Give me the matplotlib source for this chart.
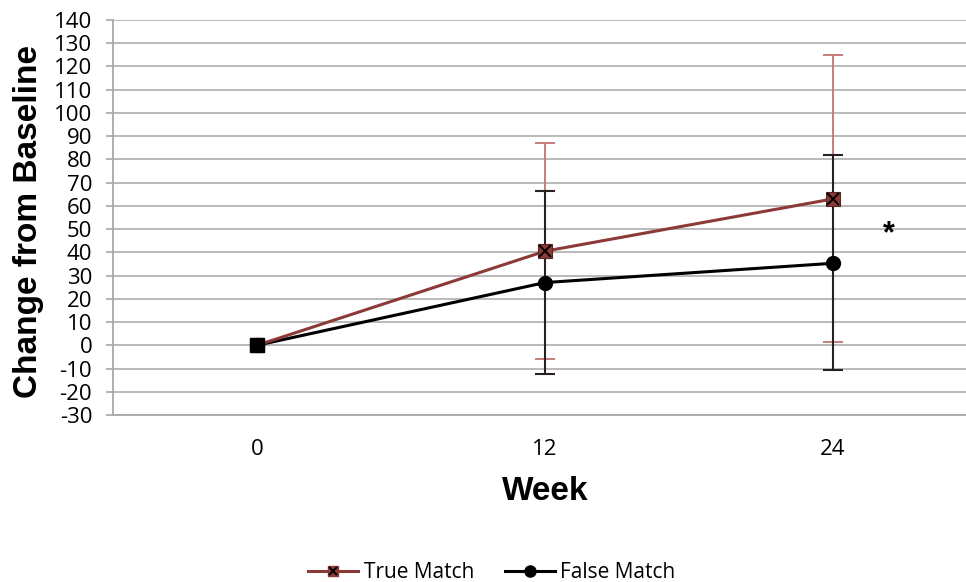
import numpy as np
import matplotlib.pyplot as plt
from matplotlib.lines import Line2D

plt.rcParams["axes.unicode_minus"] = False

# Change from baseline by study week
weeks = ["0", "12", "24"]
true_mean = [0, 40.5, 63]
true_upper = [0, 87, 125]
true_lower = [0, -6, 1.5]
false_mean = [0, 27, 35.3]
false_upper = [0, 66.5, 82]
false_lower = [0, -12.5, -10.7]
star_pos = (2.195, 48)

red = "#8b3a37"
red_err = "#c07472"
grid_grey = "#b4b4b4"

x = np.arange(len(weeks))

fig = plt.figure(figsize=(9.66, 5.82), dpi=100)
ax = fig.add_axes([113 / 966, 1 - 415 / 582, 1 - 113 / 966, (415 - 20) / 582])

tm = np.array(true_mean)
fm = np.array(false_mean)
true_err = [tm - np.array(true_lower), np.array(true_upper) - tm]
false_err = [fm - np.array(false_lower), np.array(false_upper) - fm]

ax.errorbar(x[1:], tm[1:], yerr=[e[1:] for e in true_err], fmt="none",
            ecolor=red_err, elinewidth=1.3, capsize=7, capthick=1.3, zorder=2)
ax.errorbar(x[1:], fm[1:], yerr=[e[1:] for e in false_err], fmt="none",
            ecolor="#2a2020", elinewidth=1.5, capsize=7, capthick=1.5, zorder=3)

ax.plot(x, fm, color="black", lw=2.2, marker="o", ms=10, mfc="black",
        mec="black", zorder=4)
ax.plot(x, tm, color=red, lw=2.2, marker="s", ms=10, mfc=red, mec="#5a2522",
        mew=0.8, zorder=5)
ax.plot(x[1:], tm[1:], ls="none", marker="x", ms=8, mec="black", mew=1.4,
        zorder=6)
# week 0 point is shown as a black square
ax.plot(x[:1], fm[:1], ls="none", marker="s", ms=10, mfc="black", mec="black",
        zorder=7)

ax.text(*star_pos, "*", ha="center", va="center", fontsize=22,
        fontweight="bold", family="Liberation Sans", color="black")

ax.set_ylim(-30, 140)
ax.set_xlim(-0.5, 2.5 - 11 / 287.5)
ax.set_yticks(np.arange(-30, 141, 10))
ax.set_xticks(x)
ax.set_xticklabels(weeks)
ax.yaxis.grid(True, color=grid_grey, lw=1.3)
ax.set_axisbelow(True)

for side in ("top", "right"):
    ax.spines[side].set_visible(False)
for side in ("left", "bottom"):
    ax.spines[side].set_color("#a8a8a8")
    ax.spines[side].set_linewidth(1.3)

ax.tick_params(axis="y", length=5, width=1.2, color="#a8a8a8", pad=10,
               labelsize=16)
ax.tick_params(axis="x", length=0, pad=17, labelsize=16)
for lab in ax.get_xticklabels() + ax.get_yticklabels():
    lab.set_family("Open Sans")

ax.set_ylabel("Change from Baseline", fontsize=24, fontweight="bold",
              family="Liberation Sans", va="center")
ax.yaxis.set_label_coords((29 - 113) / (966 - 113), 0.49)
ax.set_xlabel("Week", fontsize=24, fontweight="bold", family="Liberation Sans")
ax.xaxis.set_label_coords((545 - 113) / (966 - 113), -(492 - 415) / 395)
ax.xaxis.label.set_va("center")

h_true = (Line2D([], [], color=red, lw=2.2, marker="s", ms=7, mfc=red, mec=red),
          Line2D([], [], ls="none", marker="x", ms=6, mec="black", mew=1.4))
h_false = Line2D([], [], color="black", lw=2.2, marker="o", ms=8, mfc="black")
fig.legend([h_true, h_false], ["True Match", "False Match"], loc="center",
           bbox_to_anchor=(492 / 966, 1 - 573 / 582), ncol=2, frameon=False,
           handlelength=2.4, handletextpad=0.25, columnspacing=1.5,
           prop={"family": "Open Sans", "size": 15})

fig.savefig("out.png", dpi=100)
